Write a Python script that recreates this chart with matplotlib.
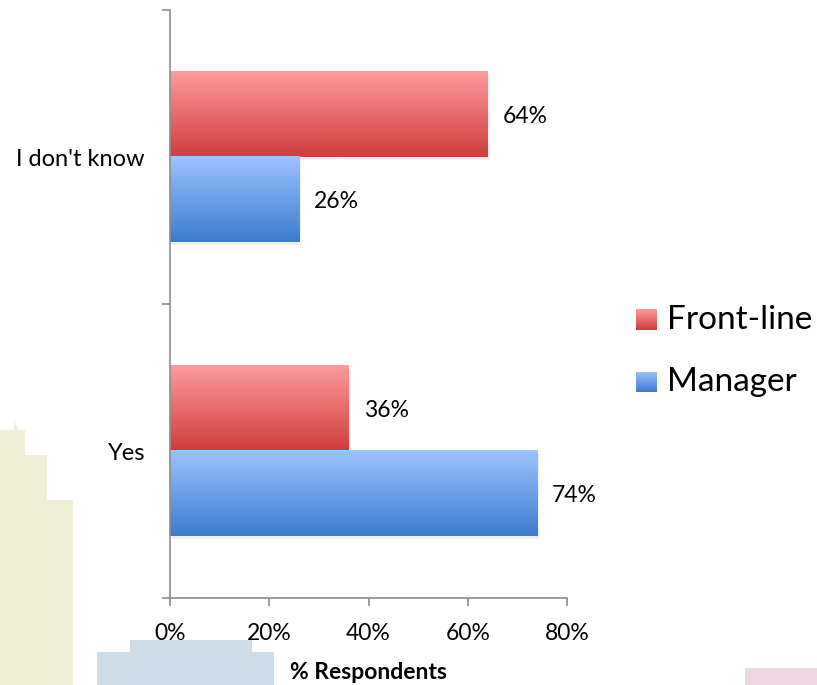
import matplotlib
import numpy as np

matplotlib.use("Agg")
import matplotlib.pyplot as plt  # noqa: E402
from matplotlib.patches import Polygon, Rectangle  # noqa: E402
from matplotlib.colors import LinearSegmentedColormap  # noqa: E402

plt.rcParams["font.family"] = ["Lato", "DejaVu Sans"]

categories = ["Yes", "I don't know"]
series_names = ["Front-line", "Manager"]
front_line = [36, 64]
manager = [74, 26]
x_ticks = [0, 20, 40, 60, 80]
x_tick_labels = ["0%", "20%", "40%", "60%", "80%"]

# top colour -> bottom colour of each gradient bar
GRADIENTS = {
    "Front-line": ("#fd9b9b", "#cf3e3c"),
    "Manager": ("#9cc2ff", "#3d7dcd"),
}
BAR_H = 0.29

fig = plt.figure(figsize=(8.17, 6.85), dpi=100)

# faint background decorations from the source slide
bg = fig.add_axes([0, 0, 1, 1], zorder=-5)
bg.set_xlim(0, 817)
bg.set_ylim(685, 0)
bg.axis("off")
bg.add_patch(Polygon([(0, 685), (0, 430), (14, 430), (14, 420), (18, 430), (25, 430),
                      (25, 455), (47, 455), (47, 500), (73, 500), (73, 685)],
                     closed=True, color="#efefd5", lw=0))
bg.add_patch(Polygon([(97, 685), (97, 652), (130, 652), (130, 640), (252, 640),
                      (252, 652), (274, 652), (274, 685)],
                     closed=True, color="#cfdde8", lw=0))
bg.add_patch(Rectangle((745, 668), 72, 17, color="#eed8e2", lw=0))

ax = fig.add_axes([170 / 817, 1 - 598 / 685, 397 / 817, 588 / 685])
ax.set_xlim(0, 80)
ax.set_ylim(0, 2)


def gradient_bar(ax, value, y_center, name):
    top, bottom = GRADIENTS[name]
    cmap = LinearSegmentedColormap.from_list(name, [bottom, top])
    y0, y1 = y_center - BAR_H / 2, y_center + BAR_H / 2
    # soft drop shadow
    ax.add_patch(Rectangle((0.4, y0 - 0.01), value, BAR_H, color="#000000",
                           alpha=0.06, lw=0, zorder=1))
    grad = np.linspace(0, 1, 64).reshape(-1, 1)
    ax.imshow(grad, cmap=cmap, aspect="auto", origin="lower",
              extent=(0, value, y0, y1), zorder=2)
    ax.text(value + 3, y_center, f"{value}%", ha="left", va="center_baseline",
            fontsize=16.5, zorder=3)


for i, cat in enumerate(categories):
    center = i + 0.5
    gradient_bar(ax, front_line[i], center + BAR_H / 2, "Front-line")
    gradient_bar(ax, manager[i], center - BAR_H / 2, "Manager")

ax.set_xlim(0, 80)
ax.set_ylim(0, 2)

for side in ("top", "right"):
    ax.spines[side].set_visible(False)
for side in ("left", "bottom"):
    ax.spines[side].set_color("#8c8c8c")
    ax.spines[side].set_linewidth(1.2)

ax.set_xticks(x_ticks)
ax.set_xticklabels(x_tick_labels)
ax.set_yticks([0, 1, 2])
ax.set_yticklabels([])
ax.set_yticks([0.5, 1.5], minor=True)
ax.set_yticklabels(categories, minor=True)
ax.tick_params(axis="y", which="minor", length=0, pad=18, labelsize=17)
ax.tick_params(axis="y", which="major", length=6, width=1.2, color="#8c8c8c")
ax.tick_params(axis="x", length=6, width=1.2, color="#8c8c8c", pad=12, labelsize=16.5)
ax.set_xlabel("% Respondents", fontsize=16.5, fontweight="bold", labelpad=13)

# legend with gradient swatches
for j, name in enumerate(series_names):
    top, bottom = GRADIENTS[name]
    cmap = LinearSegmentedColormap.from_list(name + "_leg", [bottom, top])
    yc = 320 + j * 62
    lx = fig.add_axes([636 / 817, 1 - (yc + 10.5) / 685, 21 / 817, 21 / 685])
    lx.imshow(np.linspace(0, 1, 32).reshape(-1, 1), cmap=cmap, aspect="auto",
              origin="lower")
    lx.axis("off")
    fig.text(667 / 817, 1 - yc / 685, name, ha="left", va="center", fontsize=24)

fig.savefig("out.png", dpi=100)
